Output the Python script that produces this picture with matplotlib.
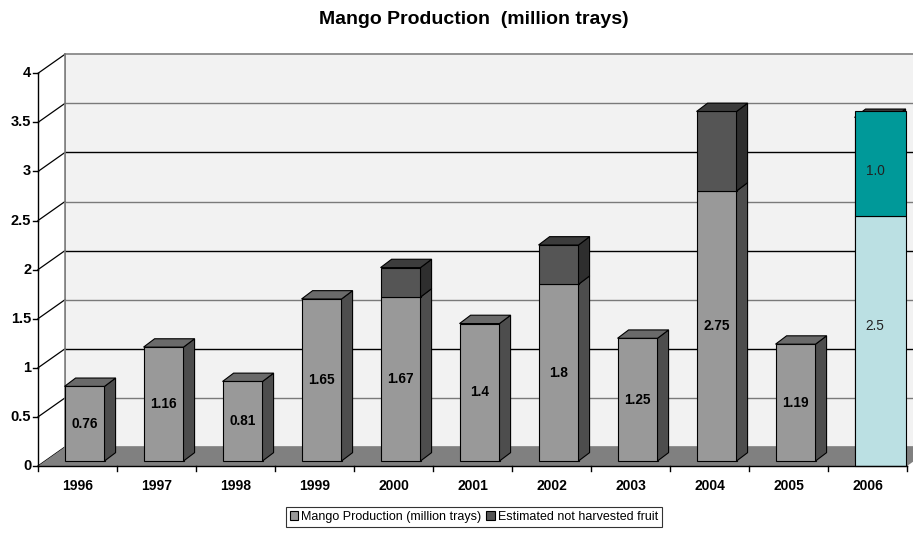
import matplotlib.pyplot as plt
from matplotlib.patches import Rectangle, Polygon, Patch

plt.rcParams['font.family'] = ['Liberation Sans', 'DejaVu Sans']

years = ['1996', '1997', '1998', '1999', '2000', '2001', '2002', '2003', '2004', '2005', '2006']
production = [0.76, 1.16, 0.81, 1.65, 1.67, 1.4, 1.8, 1.25, 2.75, 1.19, 2.5]
not_harvested = [0, 0, 0, 0, 0.3, 0, 0.4, 0, 0.81, 0, 1.0]
yticks = [0, 0.5, 1, 1.5, 2, 2.5, 3, 3.5, 4]

# 3d look, in data units
dx, dy = 0.342, 0.194      # depth of the box
fx, fy = 0.089, 0.051      # bar front face offset
bx, by = 0.14, 0.085       # bar depth
w = 0.506

c_front = ['#999999', '#555555']
c_side = ['#4d4d4d', '#2e2e2e']
c_top = ['#6a6a6a', '#3c3c3c']

fig = plt.figure(figsize=(9.13, 5.33), dpi=100)
ax = fig.add_axes([38 / 913, 67 / 533, 869 / 913, 392.7 / 533])
n = len(years)
ax.set_xlim(0, n)
ax.set_ylim(0, 4)
ax.axis('off')

# back wall
ax.add_patch(Rectangle((dx, dy), n, 4, facecolor='#f2f2f2', edgecolor='#808080',
                       lw=1.2, clip_on=False, zorder=1))
ax.add_patch(Polygon([(0, 0), (dx, dy), (dx, 4 + dy), (0, 4)], closed=True,
                     facecolor='white', edgecolor='none', clip_on=False, zorder=1))
for v in yticks:
    col = 'black' if v == int(v) else '#7a7a7a'
    if 0 < v < 4:
        ax.plot([dx, n + dx], [v + dy, v + dy], color=col, lw=1, clip_on=False, zorder=2)
    ax.plot([0, dx], [v, v + dy], color='black', lw=0.9, clip_on=False, zorder=2)
ax.plot([dx, dx], [dy, 4 + dy], color='#808080', lw=1.2, clip_on=False, zorder=2)

# floor
ax.add_patch(Polygon([(0, 0), (n, 0), (n + dx, dy), (dx, dy)], closed=True,
                     facecolor='#808080', edgecolor='none', clip_on=False, zorder=3))


def box(left, y0, h, k, top):
    ax.add_patch(Rectangle((left, y0), w, h, facecolor=c_front[k], edgecolor='black',
                           lw=0.8, clip_on=False, zorder=4))
    ax.add_patch(Polygon([(left + w, y0), (left + w + bx, y0 + by), (left + w + bx, y0 + h + by),
                          (left + w, y0 + h)], closed=True, facecolor=c_side[k],
                         edgecolor='black', lw=0.8, clip_on=False, zorder=4))
    if top:
        ax.add_patch(Polygon([(left, y0 + h), (left + bx, y0 + h + by), (left + w + bx, y0 + h + by),
                              (left + w, y0 + h)], closed=True, facecolor=c_top[k],
                             edgecolor='black', lw=0.8, clip_on=False, zorder=4))


for i in range(n):
    left = i + 0.5 - w / 2 + fx
    p, e = production[i], not_harvested[i]
    box(left, fy, p, 0, e == 0)
    if e > 0:
        box(left, fy + p, e, 1, True)
    if i < n - 1:
        ax.text(left + w / 2, fy + p / 2, f'{p:g}', ha='center', va='center',
                fontsize=9.8, fontweight='bold', zorder=6)

# 2006 overlay (forecast)
i = n - 1
left = i + 0.5 - w / 2 + fx
right = left + w + bx
p, e = production[i], not_harvested[i]
ax.add_patch(Rectangle((left, 0), right - left, p + fy, facecolor='#bbe0e3',
                       edgecolor='black', lw=0.8, clip_on=False, zorder=5))
ax.add_patch(Rectangle((left, p + fy), right - left, e + by - 0.025, facecolor='#009999',
                       edgecolor='black', lw=0.8, clip_on=False, zorder=5))
ax.text(left + 0.26, (p + fy) / 2 + 0.15, f'{p:.1f}', ha='center', va='center', fontsize=9.8,
        color='#222222', zorder=6)
ax.text(left + 0.26, p + fy + e / 2 - 0.05, f'{e:.1f}', ha='center', va='center', fontsize=9.8,
        color='#222222', zorder=6)

# front axes
ax.plot([0, n], [0, 0], color='black', lw=1, clip_on=False, zorder=7)
ax.plot([0, 0], [0, 4], color='black', lw=1, clip_on=False, zorder=7)
for k in range(n + 1):
    ax.plot([k, k], [0, -0.05], color='black', lw=1, clip_on=False, zorder=7)
for i, y in enumerate(years):
    ax.text(i + 0.5, -0.13, y, ha='center', va='top', fontsize=10, fontweight='bold')
for v in yticks:
    ax.plot([-0.06, 0], [v, v], color='black', lw=1, clip_on=False, zorder=7)
    ax.text(-0.085, v, f'{v:g}', ha='right', va='center', fontsize=10.5, fontweight='bold')

fig.text(474 / 913, 1 - 20 / 533, 'Mango Production  (million trays)', ha='center',
         va='center', fontsize=14, fontweight='bold')

handles = [Patch(facecolor=c_front[0], edgecolor='black', lw=0.8),
           Patch(facecolor=c_front[1], edgecolor='black', lw=0.8)]
leg = fig.legend(handles, ['Mango Production (million trays)', 'Estimated not harvested fruit'],
                 loc='center', bbox_to_anchor=(474 / 913, 1 - 517 / 533), ncol=2, fontsize=9,
                 frameon=True, fancybox=False, handlelength=0.65, handleheight=0.65,
                 columnspacing=0.4, handletextpad=0.25, borderpad=0.3, borderaxespad=0)
leg.get_frame().set_edgecolor('black')
leg.get_frame().set_linewidth(0.8)

fig.savefig('out.png', dpi=100)
